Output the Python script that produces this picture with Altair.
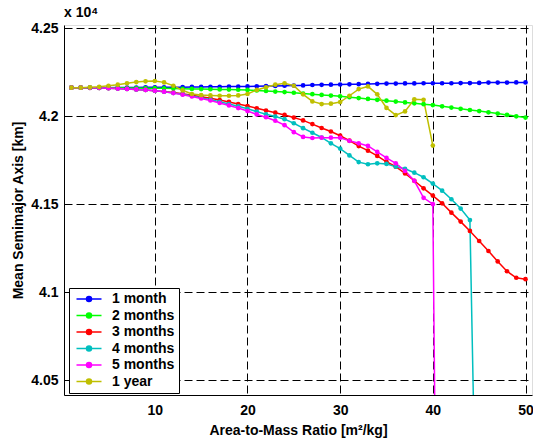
import altair as alt
import pandas as pd

x_vals = list(range(1, 51))

one_month = [4.2163, 4.2163, 4.2163, 4.2163, 4.2163, 4.2164, 4.2164, 4.2164, 4.2165, 4.2165,
             4.2165, 4.2166, 4.2166, 4.2167, 4.2167, 4.2168, 4.2168, 4.2169, 4.2169, 4.2170,
             4.2171, 4.2172, 4.2173, 4.2174, 4.2175, 4.2176, 4.2178, 4.2179, 4.2180, 4.2181,
             4.2182, 4.2183, 4.2184, 4.2185, 4.2186, 4.2186, 4.2187, 4.2187, 4.2188, 4.2188,
             4.2188, 4.2188, 4.2189, 4.2189, 4.2190, 4.2192, 4.2192, 4.2192, 4.2193, 4.2193]

two_months = [4.2163, 4.2163, 4.2163, 4.2162, 4.2162, 4.2162, 4.2161, 4.2161, 4.2160, 4.2160,
              4.2159, 4.2158, 4.2157, 4.2156, 4.2155, 4.2154, 4.2153, 4.2152, 4.2151, 4.2150,
              4.2147, 4.2144, 4.2141, 4.2138, 4.2134, 4.2130, 4.2126, 4.2122, 4.2118, 4.2114,
              4.2109, 4.2104, 4.2099, 4.2094, 4.2089, 4.2084, 4.2079, 4.2074, 4.2069, 4.2064,
              4.2057, 4.2050, 4.2043, 4.2036, 4.2030, 4.2023, 4.2016, 4.2008, 4.2000, 4.1993]

three_months = [4.2163, 4.2163, 4.2162, 4.2161, 4.2160, 4.2158, 4.2156, 4.2153, 4.2150, 4.2146,
                4.2141, 4.2135, 4.2128, 4.2120, 4.2112, 4.2103, 4.2093, 4.2082, 4.2070, 4.2059,
                4.2046, 4.2033, 4.2021, 4.2008, 4.1993, 4.1977, 4.1956, 4.1934, 4.1914, 4.1890,
                4.1862, 4.1831, 4.1805, 4.1775, 4.1742, 4.1714, 4.1676, 4.1634, 4.1591, 4.1550,
                4.1506, 4.1453, 4.1402, 4.1349, 4.1292, 4.1235, 4.1176, 4.1120, 4.1083, 4.1075]

four_months_x = list(range(1, 46))
four_months = [4.2163, 4.2163, 4.2162, 4.2161, 4.2160, 4.2158, 4.2156, 4.2153, 4.2150, 4.2146,
               4.2140, 4.2133, 4.2125, 4.2116, 4.2106, 4.2095, 4.2083, 4.2070, 4.2057, 4.2043,
               4.2027, 4.2012, 4.1999, 4.1984, 4.1961, 4.1933, 4.1907, 4.1880, 4.1847, 4.1817,
               4.1778, 4.1740, 4.1728, 4.1733, 4.1730, 4.1714, 4.1702, 4.1680, 4.1654, 4.1618,
               4.1578, 4.1529, 4.1476, 4.1411, 3.87]

five_months_x = list(range(1, 42))
five_months = [4.2163, 4.2163, 4.2162, 4.2161, 4.2160, 4.2158, 4.2156, 4.2153, 4.2150, 4.2146,
               4.2140, 4.2132, 4.2123, 4.2113, 4.2102, 4.2090, 4.2076, 4.2062, 4.2047, 4.2030,
               4.2011, 4.1995, 4.1975, 4.1950, 4.1910, 4.1883, 4.1877, 4.1879, 4.1879, 4.1878,
               4.1861, 4.1847, 4.1832, 4.1798, 4.1764, 4.1733, 4.1690, 4.1634, 4.1537, 4.1501,
               3.60]

one_year_x = list(range(1, 41))
one_year = [4.2163, 4.2163, 4.2165, 4.2168, 4.2174, 4.2180, 4.2188, 4.2195, 4.2199, 4.2201,
            4.2193, 4.2174, 4.2148, 4.2127, 4.2121, 4.2119, 4.2117, 4.2117, 4.2119, 4.2127,
            4.2150, 4.2165, 4.2180, 4.2188, 4.2174, 4.2125, 4.2085, 4.2070, 4.2072, 4.2081,
            4.2117, 4.2155, 4.2170, 4.2125, 4.2048, 4.2007, 4.2028, 4.2097, 4.2094, 4.1834]

series_names = ["1 month", "2 months", "3 months", "4 months", "5 months", "1 year"]
series_colors = ["#0000FF", "#00FF00", "#FF0000", "#00BFBF", "#FF00FF", "#BFBF00"]
x_ticks = [10, 20, 30, 40, 50]
y_ticks = [4.05, 4.1, 4.15, 4.2, 4.25]

rows = []
for name, xs, ys in [
    ("1 month", x_vals, one_month),
    ("2 months", x_vals, two_months),
    ("3 months", x_vals, three_months),
    ("4 months", four_months_x, four_months),
    ("5 months", five_months_x, five_months),
    ("1 year", one_year_x, one_year),
]:
    for i, (xv, yv) in enumerate(zip(xs, ys)):
        rows.append({"series": name, "x": xv, "y": yv, "order": i})
df = pd.DataFrame(rows)

FONT = "Liberation Sans"

xenc = alt.X("x:Q", scale=alt.Scale(domain=[0.2, 50.7], nice=False, zero=False),
             axis=alt.Axis(values=x_ticks, title="Area-to-Mass Ratio [m²/kg]", format="d",
                           grid=True, gridDash=[8, 4], gridColor="black", gridOpacity=1,
                           gridWidth=1, ticks=False, domainColor="black", domainWidth=1,
                           labelFont=FONT, labelFontSize=14, labelFontWeight="bold",
                           labelColor="black", labelPadding=8,
                           titleFont=FONT, titleFontSize=14, titleFontWeight="bold",
                           titleColor="black", titlePadding=6))
yenc = alt.Y("y:Q", scale=alt.Scale(domain=[4.0417, 4.2519], nice=False, zero=False),
             axis=alt.Axis(values=y_ticks, title="Mean Semimajor Axis [km]", format=".2~f",
                           grid=True, gridDash=[8, 4], gridColor="black", gridOpacity=1,
                           gridWidth=1, ticks=False, domainColor="black", domainWidth=1,
                           labelFont=FONT, labelFontSize=14, labelFontWeight="bold",
                           labelColor="black", labelPadding=6,
                           titleFont=FONT, titleFontSize=14, titleFontWeight="bold",
                           titleColor="black", titlePadding=5))

legend = alt.Legend(title=None, orient="none", legendX=5, legendY=263,
                    symbolType="M-2.5,0L2.5,0M-0.5,0a0.5,0.5 0 1,0 1,0a0.5,0.5 0 1,0 -1,0",
                    symbolSize=100, symbolStrokeWidth=1.5, symbolOffset=9,
                    labelFont=FONT, labelFontSize=14, labelFontWeight="bold", labelColor="black",
                    labelOffset=16, rowPadding=2.5, padding=4, labelLimit=200,
                    strokeColor="black", fillColor="white")

color = alt.Color("series:N", scale=alt.Scale(domain=series_names, range=series_colors),
                  sort=series_names, legend=legend)

base = alt.Chart(df).encode(x=xenc, y=yenc, color=color, detail="series:N",
                            order=alt.Order("order:Q"))

lines = base.mark_line(strokeWidth=1.5, clip=True)
points = base.mark_circle(size=22, opacity=1, clip=True)

mult = alt.Chart(pd.DataFrame({"t": ["x 10⁴"]})).mark_text(
    font=FONT, fontSize=14, fontWeight="bold", align="left", baseline="alphabetic",
    color="black").encode(text="t:N", x=alt.value(0), y=alt.value(-8))

chart = alt.layer(lines, points, mult).properties(
    width=468, height=370,
    padding={"left": 64, "top": 25, "right": 1, "bottom": 51},
    autosize=alt.AutoSizeParams(type="none"),
).configure_view(stroke="black", strokeWidth=1).configure(background="white")

chart.save("out.html", embed_options={"renderer": "svg", "actions": False})
